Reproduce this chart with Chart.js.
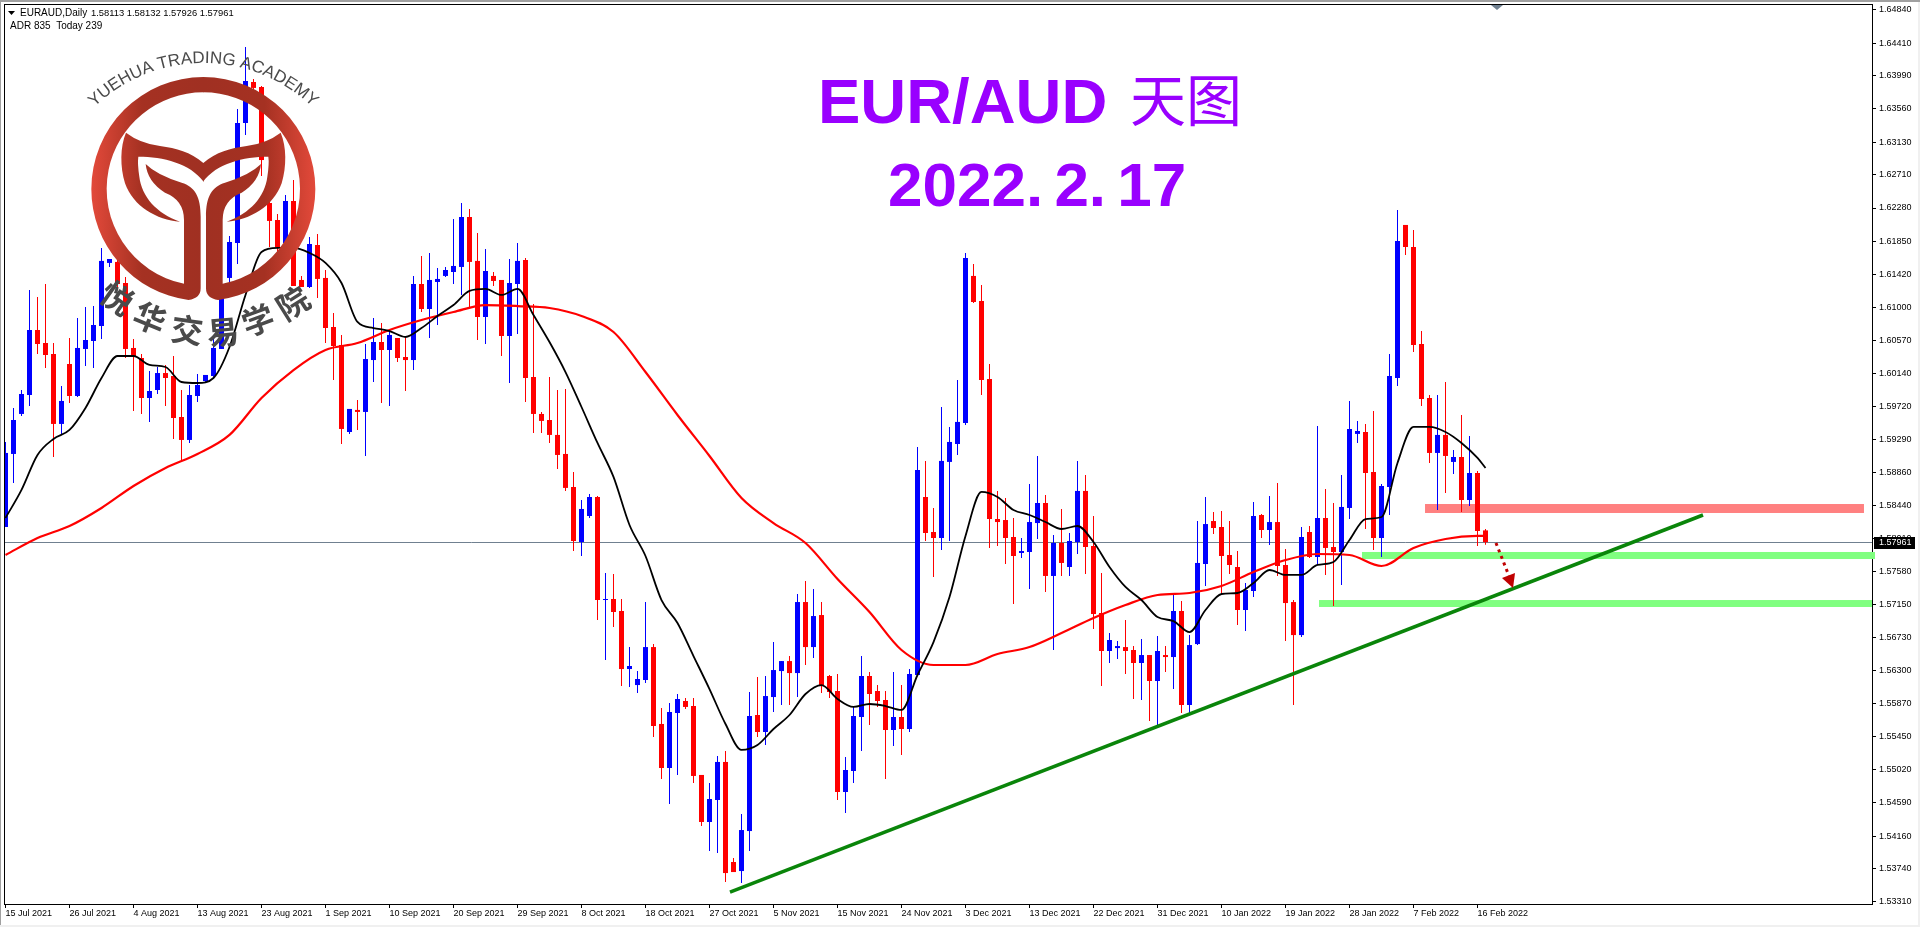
<!DOCTYPE html>
<html>
<head>
<meta charset="utf-8">
<title>EURAUD Daily</title>
<script src="https://cdn.jsdelivr.net/npm/chart.js@4/dist/chart.umd.min.js"></script>
<style>
html, body { margin: 0; padding: 0; background: #fff; overflow: hidden; }
canvas { display: block; }
</style>
</head>
<body>
<canvas id="chart" width="1920" height="927"></canvas>
<script>
// daily candles, 15 Jul 2021 .. 17 Feb 2022
const opens = [
1.58157,1.59101,1.59618,1.59863,1.60703,1.60535,1.60393,1.59489,1.60264,1.59850,
1.60458,1.60561,1.60755,1.61570,1.61583,1.61311,1.60471,1.60341,1.59824,1.59928,
1.60147,1.60109,1.59579,1.59282,1.59850,1.60044,1.60109,1.60458,1.61376,1.61828,
1.63379,1.63909,1.63844,1.62345,1.62125,1.61828,1.62371,1.61350,1.61259,1.61802,
1.61376,1.60742,1.60509,1.59385,1.59670,1.59644,1.60315,1.60548,1.60445,1.60600,
1.60354,1.60315,1.61298,1.60975,1.61324,1.61402,1.61453,1.61518,1.62164,1.61596,
1.60871,1.61402,1.61350,1.60626,1.61298,1.61608,1.60096,1.59618,1.59540,1.59347,
1.59101,1.58674,1.57963,1.58299,1.58545,1.57213,1.57226,1.57071,1.56321,1.56114,
1.56179,1.56605,1.55611,1.55042,1.55753,1.55908,1.55843,1.54952,1.54344,1.54628,
1.55120,1.53827,1.53710,1.54227,1.55727,1.55507,1.55959,1.56295,1.56424,1.56269,
1.57187,1.56605,1.57019,1.56231,1.56037,1.54732,1.55003,1.55701,1.56231,1.56037,
1.55921,1.55533,1.55701,1.55546,1.56244,1.58545,1.58092,1.58015,1.58998,1.59230,
1.59502,1.61402,1.61078,1.60070,1.58260,1.58247,1.58028,1.57821,1.57834,1.58208,
1.58467,1.57524,1.57950,1.57640,1.57963,1.58623,1.57911,1.57045,1.56554,1.56592,
1.56605,1.56567,1.56399,1.56502,1.56166,1.56502,1.56476,1.57071,1.55856,1.56644,
1.57679,1.58234,1.58157,1.57795,1.57640,1.57084,1.57330,1.58312,1.58118,1.58221,
1.57666,1.57187,1.56760,1.58092,1.57769,1.58273,1.57898,1.57834,1.58403,1.59360,
1.59385,1.58868,1.58015,1.58674,1.60083,1.62061,1.61776,1.60522,1.59824,1.59114,
1.59347,1.58998,1.59062,1.58506,1.58855,1.58113];
const highs = [
1.59256,1.59696,1.59928,1.61221,1.61130,1.61298,1.60535,1.59979,1.60600,1.60858,
1.61001,1.61013,1.61764,1.61621,1.61673,1.61389,1.60587,1.60393,1.60173,1.60225,
1.60251,1.60367,1.59928,1.59992,1.60134,1.60122,1.60600,1.61389,1.61919,1.63560,
1.64361,1.63948,1.63857,1.62926,1.62203,1.62448,1.62642,1.61402,1.61906,1.61945,
1.61479,1.60923,1.60639,1.59683,1.59799,1.60522,1.60858,1.60794,1.60703,1.60600,
1.60600,1.61402,1.61660,1.61699,1.61505,1.61518,1.62138,1.62345,1.62268,1.61957,
1.61751,1.61453,1.61350,1.61621,1.61828,1.61634,1.61039,1.59644,1.60096,1.59928,
1.59941,1.58868,1.58506,1.58584,1.58558,1.57562,1.57549,1.57226,1.56605,1.56295,
1.57187,1.56644,1.55818,1.55882,1.55998,1.55946,1.55946,1.54952,1.54848,1.55197,
1.55262,1.53878,1.54447,1.56024,1.56218,1.56231,1.56670,1.56424,1.56489,1.57291,
1.57459,1.57356,1.57187,1.56244,1.56257,1.55184,1.55843,1.56489,1.56282,1.56114,
1.56037,1.56282,1.56114,1.56321,1.59191,1.59011,1.58403,1.59708,1.59450,1.60057,
1.61699,1.61557,1.61285,1.60264,1.58623,1.58532,1.58273,1.58015,1.58713,1.59075,
1.58571,1.58054,1.58390,1.58079,1.59011,1.58830,1.58299,1.57562,1.56786,1.56683,
1.56954,1.56618,1.56709,1.56502,1.56747,1.56618,1.57278,1.57200,1.56760,1.58234,
1.58545,1.58351,1.58364,1.58234,1.57847,1.57433,1.58480,1.58325,1.58558,1.58726,
1.57873,1.57213,1.58157,1.58170,1.59463,1.58649,1.58467,1.58830,1.59786,1.59528,
1.59489,1.59657,1.58713,1.60393,1.62255,1.62061,1.61995,1.60690,1.59863,1.59863,
1.60031,1.59153,1.59605,1.59334,1.58881,1.58132];
const lows = [
1.58157,1.58726,1.59592,1.59721,1.60393,1.60212,1.59062,1.59347,1.59760,1.59837,
1.60238,1.60212,1.60587,1.61518,1.61221,1.60341,1.59657,1.59618,1.59515,1.59876,
1.59721,1.59295,1.58998,1.59243,1.59773,1.60018,1.60096,1.60458,1.61311,1.61557,
1.63224,1.63767,1.62694,1.61776,1.61699,1.61802,1.61272,1.61259,1.61247,1.61117,
1.60535,1.60057,1.59230,1.59360,1.59411,1.59075,1.60031,1.59760,1.59721,1.60290,
1.59915,1.60186,1.60936,1.60600,1.60768,1.61389,1.61298,1.61156,1.60988,1.60574,
1.60522,1.61272,1.60367,1.60018,1.60652,1.59773,1.59372,1.59372,1.59243,1.58907,
1.58623,1.57847,1.57782,1.58273,1.56954,1.56437,1.56864,1.56101,1.56088,1.56011,
1.56140,1.55443,1.54900,1.54576,1.54952,1.55805,1.54848,1.54292,1.53969,1.53943,
1.53568,1.53697,1.53555,1.53969,1.55443,1.55339,1.55766,1.55856,1.55856,1.55959,
1.56373,1.56463,1.56011,1.55946,1.54628,1.54460,1.54848,1.55262,1.55598,1.55831,
1.54900,1.55326,1.55210,1.55507,1.56244,1.57976,1.57511,1.57860,1.57976,1.59088,
1.59476,1.61052,1.59863,1.57886,1.57911,1.57679,1.57161,1.57756,1.57356,1.58002,
1.57317,1.56567,1.57524,1.57524,1.57808,1.57549,1.56838,1.56101,1.56399,1.56450,
1.56257,1.55934,1.55921,1.55650,1.55598,1.56282,1.56062,1.55753,1.55753,1.56631,
1.57395,1.58067,1.57278,1.57549,1.56890,1.56812,1.57252,1.58015,1.57924,1.57524,
1.56683,1.55856,1.56734,1.57756,1.57679,1.57537,1.57135,1.57408,1.58260,1.59243,
1.58131,1.57860,1.57769,1.58312,1.59979,1.61673,1.60419,1.59721,1.58985,1.58377,
1.58597,1.58843,1.58351,1.58429,1.57911,1.57926];
const closes = [
1.59114,1.59540,1.59876,1.60703,1.60522,1.60380,1.59489,1.59786,1.59850,1.60471,
1.60574,1.60768,1.61596,1.61621,1.61298,1.60458,1.60367,1.59824,1.59915,1.60147,
1.60083,1.59566,1.59282,1.59863,1.59992,1.60122,1.60471,1.61117,1.61841,1.63379,
1.63922,1.63832,1.62900,1.62113,1.61776,1.62371,1.61272,1.61259,1.61815,1.61363,
1.60729,1.60496,1.59424,1.59683,1.59644,1.60328,1.60548,1.60445,1.60639,1.60341,
1.60315,1.61298,1.60975,1.61350,1.61363,1.61479,1.61531,1.62164,1.61583,1.60871,
1.61466,1.61337,1.60626,1.61311,1.61596,1.60083,1.59618,1.59528,1.59347,1.59088,
1.58662,1.57976,1.58390,1.58545,1.57213,1.57226,1.57058,1.56321,1.56360,1.56192,
1.56605,1.55585,1.55042,1.55766,1.55934,1.55831,1.54939,1.54344,1.54641,1.55120,
1.53684,1.53697,1.54240,1.55714,1.55507,1.55972,1.56308,1.56424,1.56269,1.57187,
1.56605,1.57006,1.56101,1.56024,1.54732,1.55016,1.55714,1.56231,1.55998,1.55908,
1.55533,1.55701,1.55546,1.56257,1.58894,1.58079,1.58015,1.59011,1.59256,1.59515,
1.61634,1.61065,1.60057,1.58260,1.58221,1.58015,1.57782,1.57847,1.58221,1.58467,
1.57524,1.57950,1.57692,1.57976,1.58623,1.57898,1.57032,1.56554,1.56696,1.56618,
1.56554,1.56399,1.56502,1.56166,1.56554,1.56476,1.57071,1.55856,1.56631,1.57692,
1.58195,1.58144,1.57782,1.57666,1.57084,1.57343,1.58299,1.58118,1.58221,1.57653,
1.57174,1.56760,1.58028,1.57769,1.58273,1.57886,1.57834,1.58416,1.59424,1.59398,
1.58855,1.58015,1.58687,1.60109,1.61854,1.61776,1.60509,1.59811,1.59114,1.59347,
1.59075,1.59062,1.58506,1.58855,1.58105,1.57961];

// black MA, one reading every 2 bars and the last bar
const blackMa = [
1.58273,1.58636,1.59088,1.59295,1.59411,1.59696,1.60083,1.60367,1.60367,1.60251,
1.60225,1.60031,1.60018,1.60083,1.60483,1.61156,1.61712,1.61764,1.61764,1.61699,
1.61570,1.61311,1.60807,1.60729,1.60690,1.60613,1.60729,1.60884,1.61026,1.61208,
1.61234,1.61156,1.61234,1.60897,1.60548,1.60160,1.59708,1.59243,1.58804,1.58183,
1.57782,1.57213,1.56916,1.56489,1.56062,1.55611,1.55275,1.55339,1.55546,1.55727,
1.55998,1.56114,1.55934,1.55831,1.55869,1.55843,1.55792,1.56244,1.56670,1.57252,
1.58041,1.58610,1.58545,1.58377,1.58312,1.58221,1.58131,1.58170,1.57963,1.57640,
1.57382,1.57213,1.56993,1.56941,1.56799,1.57084,1.57291,1.57304,1.57433,1.57601,
1.57537,1.57537,1.57666,1.57705,1.57989,1.58260,1.58286,1.58985,1.59450,1.59450,
1.59385,1.59243,1.59049,1.58920];
// red MA, one reading every 4 bars and the last bar
const redMa = [
1.57795,1.58015,1.58170,1.58403,1.58687,1.58920,1.59101,1.59347,1.59824,1.60186,
1.60445,1.60535,1.60703,1.60832,1.60936,1.61026,1.61013,1.60988,1.60884,1.60677,
1.60160,1.59605,1.59075,1.58532,1.58208,1.57950,1.57485,1.57058,1.56567,1.56373,
1.56373,1.56515,1.56605,1.56786,1.56980,1.57148,1.57278,1.57304,1.57395,1.57575,
1.57730,1.57808,1.57795,1.57653,1.57886,1.58002,1.58041,1.58041];

const xTickBars = [0,8,16,24,32,40,48,56,64,72,80,88,96,104,112,120,128,136,144,152,160,168,176,184];
const xTickLabels = ['15 Jul 2021','26 Jul 2021','4 Aug 2021','13 Aug 2021','23 Aug 2021','1 Sep 2021',
  '10 Sep 2021','20 Sep 2021','29 Sep 2021','8 Oct 2021','18 Oct 2021','27 Oct 2021','5 Nov 2021',
  '15 Nov 2021','24 Nov 2021','3 Dec 2021','13 Dec 2021','22 Dec 2021','31 Dec 2021','10 Jan 2022',
  '19 Jan 2022','28 Jan 2022','7 Feb 2022','16 Feb 2022'];
const yTicks = [1.64840,1.64410,1.63990,1.63560,1.63130,1.62710,1.62280,1.61850,1.61420,1.61000,
  1.60570,1.60140,1.59720,1.59290,1.58860,1.58440,1.58010,1.57580,1.57150,1.56730,1.56300,1.55870,
  1.55450,1.55020,1.54590,1.54160,1.53740,1.53310];

// drawn objects on the chart, in bar / price units
const trendBars = [90.56, 212.19];
const trendPrices = [1.53439, 1.58312];
const arrowBars = [186.31, 187.94];
const arrowPrices = [1.57950, 1.57524];
const arrowHeadBars = [187.06, 188.69, 188.44];
const arrowHeadPrices = [1.57498, 1.57562, 1.57369];
const zones = [
  { from: 177.44, to: 232.31, hi: 1.58454, lo: 1.58338, color: '#ff8080' },
  { from: 169.56, to: 233.69, hi: 1.57834, lo: 1.57743, color: '#80ff80' },
  { from: 164.19, to: 233.31, hi: 1.57213, lo: 1.57123, color: '#80ff80' }
];
const lastPrice = 1.57961;

const UP = '#0000ff';
const DOWN = '#ff0000';
const FONT = '"Liberation Sans", Arial, sans-serif';

const bars = opens.map((_, i) => i);
const barColors = bars.map(i => closes[i] >= opens[i] ? UP : DOWN);
const blackBars = blackMa.map((_, k) => k < 93 ? k * 2 : 185);
const redBars = redMa.map((_, k) => k < 47 ? k * 4 : 185);

const chartDecor = {
  id: 'chartDecor',
  beforeDatasetsDraw(chart) {
    const { ctx, chartArea: a, scales: { x, y } } = chart;
    ctx.save();
    // frame
    ctx.strokeStyle = '#000';
    ctx.lineWidth = 1;
    ctx.strokeRect(4.5, 4.5, a.right - 4, a.bottom - 4);
    // zones sit behind the candles
    zones.forEach(z => {
      ctx.fillStyle = z.color;
      const top = y.getPixelForValue(z.hi);
      ctx.fillRect(x.getPixelForValue(z.from), top, x.getPixelForValue(z.to) - x.getPixelForValue(z.from), y.getPixelForValue(z.lo) - top);
    });
    // last price line
    ctx.strokeStyle = '#708090';
    const py = Math.floor(y.getPixelForValue(lastPrice)) + 0.5;
    ctx.beginPath();
    ctx.moveTo(a.left, py);
    ctx.lineTo(a.right, py);
    ctx.stroke();
    ctx.restore();
  },
  afterDatasetsDraw(chart) {
    const { ctx, scales: { x, y } } = chart;
    ctx.save();
    // arrow head
    ctx.fillStyle = '#c00000';
    ctx.beginPath();
    arrowHeadBars.forEach((b, i) => ctx.lineTo(x.getPixelForValue(b), y.getPixelForValue(arrowHeadPrices[i])));
    ctx.closePath();
    ctx.fill();

    // shift marker on top
    ctx.fillStyle = '#708090';
    ctx.beginPath();
    ctx.moveTo(1491, 5);
    ctx.lineTo(1503, 5);
    ctx.lineTo(1497, 10);
    ctx.closePath();
    ctx.fill();

    // last price box
    ctx.fillStyle = '#000';
    ctx.fillRect(1874, 537, 41, 12);
    ctx.fillStyle = '#fff';
    ctx.font = '9px ' + FONT;
    ctx.textBaseline = 'middle';
    ctx.fillText(lastPrice.toFixed(5), 1879, 543);

    // top left info
    ctx.fillStyle = '#000';
    ctx.beginPath();
    ctx.moveTo(8, 11);
    ctx.lineTo(15, 11);
    ctx.lineTo(11.5, 15);
    ctx.closePath();
    ctx.fill();
    ctx.textBaseline = 'alphabetic';
    ctx.font = '10px ' + FONT;
    ctx.fillText('EURAUD,Daily', 20, 16);
    ctx.fillText('ADR 835  Today 239', 10, 29);
    ctx.font = '9.4px ' + FONT;
    ctx.fillText('1.58113 1.58132 1.57926 1.57961', 91, 16);

    // titles
    ctx.fillStyle = '#9900ff';
    ctx.font = 'bold 63.5px ' + FONT;
    ctx.fillText('EUR/AUD', 818, 123);
    ctx.font = '56px "Noto Sans CJK SC"';
    ctx.fillText('天图', 1130, 121);
    ctx.font = 'bold 62px ' + FONT;
    ctx.wordSpacing = '-6px';
    ctx.fillText('2022. 2. 17', 888, 206);
    ctx.wordSpacing = '0px';

    drawLogo(ctx);
    ctx.restore();

    // window edges
    ctx.fillStyle = '#a0a0a0';
    ctx.fillRect(0, 0, 1920, 2);
    ctx.fillRect(0, 0, 1, 927);
    ctx.fillStyle = '#f0f0f0';
    ctx.fillRect(0, 925, 1920, 2);
    ctx.fillRect(1918, 2, 2, 925);
  }
};

function logoHalf(ctx) {
  const d = Math.PI / 180;
  // ring and stem
  ctx.beginPath();
  ctx.moveTo(611, 231);
  ctx.lineTo(610, 231);
  ctx.arc(610, 567, 336, -90 * d, 97.6 * d, true);
  ctx.quadraticCurveTo(602, 895, 602, 865);
  ctx.lineTo(602, 650);
  ctx.bezierCurveTo(602, 590, 585, 560, 545, 548);
  ctx.quadraticCurveTo(470, 525, 437, 492);
  ctx.quadraticCurveTo(442, 545, 495, 578);
  ctx.quadraticCurveTo(552, 600, 552, 660);
  ctx.lineTo(552, 852);
  ctx.arc(610, 567, 290, 101.5 * d, 270 * d, false);
  ctx.lineTo(611, 277);
  ctx.closePath();
  ctx.fill();
  // wing
  ctx.beginPath();
  ctx.moveTo(611, 490);
  ctx.bezierCurveTo(570, 455, 530, 445, 480, 438);
  ctx.quadraticCurveTo(420, 430, 378, 398);
  ctx.bezierCurveTo(360, 440, 360, 500, 375, 550);
  ctx.bezierCurveTo(400, 620, 470, 660, 540, 665);
  ctx.bezierCurveTo(470, 640, 425, 590, 418, 530);
  ctx.quadraticCurveTo(412, 490, 415, 470);
  ctx.bezierCurveTo(490, 470, 570, 490, 611, 545);
  ctx.closePath();
  ctx.fill();
}

function drawLogo(ctx) {
  ctx.save();
  ctx.scale(1 / 3, 1 / 3);
  const g = ctx.createLinearGradient(275, 0, 610, 0);
  g.addColorStop(0, '#e2493a');
  g.addColorStop(0.45, '#a53122');
  g.addColorStop(1, '#a03022');
  ctx.fillStyle = g;
  logoHalf(ctx);
  ctx.translate(1220, 0);
  ctx.scale(-1, 1);
  logoHalf(ctx);
  ctx.restore();

  // english name on an arc
  const name = 'YUEHUA TRADING ACADEMY';
  const cx = 203.3, cy = 220, r = 157;
  ctx.fillStyle = '#4a4a4a';
  ctx.font = '17px ' + FONT;
  ctx.textBaseline = 'alphabetic';
  let used = -ctx.measureText(name).width / 2;
  for (const ch of name) {
    const w = ctx.measureText(ch).width;
    ctx.save();
    ctx.translate(cx, cy);
    ctx.rotate((used + w / 2) / r);
    ctx.fillText(ch, -w / 2, -r);
    ctx.restore();
    used += w;
  }

  // chinese name under the ring
  const chars = ['悦', '华', '交', '易', '学', '院'];
  const charX = [117, 150, 187, 223, 258, 293];
  const charY = [298, 318, 330, 332, 320, 303];
  const charRot = [35, 22, 8, -5, -20, -32];
  ctx.font = 'bold 32px "Noto Sans CJK SC"';
  ctx.textAlign = 'center';
  ctx.textBaseline = 'middle';
  chars.forEach((ch, i) => {
    ctx.save();
    ctx.translate(charX[i], charY[i]);
    ctx.rotate(charRot[i] * Math.PI / 180);
    ctx.fillText(ch, 0, 0);
    ctx.restore();
  });
  ctx.textAlign = 'left';
}

new Chart(document.getElementById('chart'), {
  type: 'bar',
  data: {
    datasets: [
      {
        label: 'Wick',
        data: bars.map(i => ({ x: i, y: [lows[i], highs[i]] })),
        backgroundColor: barColors,
        barThickness: 1,
        grouped: false,
        inflateAmount: 0,
        order: 6
      },
      {
        label: 'Body',
        data: bars.map(i => ({ x: i, y: [opens[i], closes[i]] })),
        backgroundColor: barColors,
        barThickness: 5,
        grouped: false,
        inflateAmount: 0,
        order: 5
      },
      {
        type: 'line',
        label: 'Red MA',
        data: redBars.map((b, k) => ({ x: b, y: redMa[k] })),
        borderColor: '#ff0000',
        borderWidth: 2.2,
        pointRadius: 0,
        cubicInterpolationMode: 'monotone',
        order: 4
      },
      {
        type: 'line',
        label: 'Black MA',
        data: blackBars.map((b, k) => ({ x: b, y: blackMa[k] })),
        borderColor: '#000000',
        borderWidth: 1.8,
        pointRadius: 0,
        cubicInterpolationMode: 'monotone',
        order: 3
      },
      {
        type: 'line',
        label: 'Trend',
        data: trendBars.map((b, k) => ({ x: b, y: trendPrices[k] })),
        borderColor: '#0a850a',
        borderWidth: 3.5,
        pointRadius: 0,
        order: 2
      },
      {
        type: 'line',
        label: 'Arrow',
        data: arrowBars.map((b, k) => ({ x: b, y: arrowPrices[k] })),
        borderColor: '#c00000',
        borderWidth: 3,
        borderDash: [3, 4],
        pointRadius: 0,
        order: 1
      }
    ]
  },
  options: {
    responsive: false,
    animation: false,
    layout: { padding: { left: 5, top: 5, right: 0, bottom: 0 } },
    plugins: { legend: { display: false }, tooltip: { enabled: false } },
    scales: {
      x: {
        type: 'linear',
        offset: false,
        min: -0.0625,
        max: 233.3125,
        grid: { offset: false, drawOnChartArea: false, tickLength: 4, tickColor: '#000' },
        border: { display: false },
        afterBuildTicks: scale => { scale.ticks = xTickBars.map(v => ({ value: v })); },
        afterFit: scale => {
          scale.height = 23;
          scale.paddingLeft = 0;
          scale.paddingRight = 0;
        },
        ticks: {
          autoSkip: false,
          maxRotation: 0,
          align: 'start',
          padding: 0,
          color: '#000',
          font: { family: FONT, size: 9 },
          callback: v => xTickLabels[xTickBars.indexOf(v)]
        }
      },
      y: {
        position: 'right',
        min: 1.53284,
        max: 1.64904,
        grid: { drawOnChartArea: false, tickLength: 4, tickColor: '#000' },
        border: { display: false },
        afterBuildTicks: scale => { scale.ticks = yTicks.map(v => ({ value: v })); },
        afterFit: scale => {
          scale.width = 48;
          scale.paddingTop = 0;
          scale.paddingBottom = 0;
        },
        ticks: {
          autoSkip: false,
          padding: 3,
          color: '#000',
          font: { family: FONT, size: 9 },
          callback: v => v.toFixed(5)
        }
      }
    }
  },
  plugins: [chartDecor]
});
</script>
</body>
</html>
